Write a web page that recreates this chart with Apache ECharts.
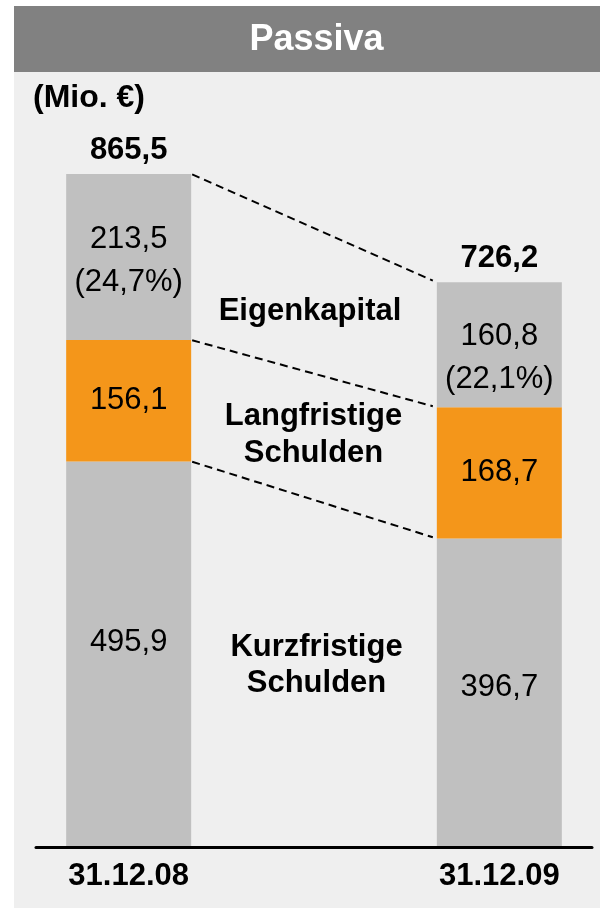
<!DOCTYPE html>
<html>
<head>
<meta charset="utf-8">
<script src="https://cdn.jsdelivr.net/npm/echarts@6/dist/echarts.min.js"></script>
<style>
html,body{margin:0;padding:0;background:#fff;}
#chart{width:600px;height:909px;}
</style>
</head>
<body>
<div id="chart"></div>
<script>
// ---- data ----
const categories = ['31.12.08', '31.12.09'];
const kurzfristigeSchulden = [495.9, 396.7];
const langfristigeSchulden = [156.1, 168.7];
const eigenkapital = [213.5, 160.8];
const eigenkapitalQuote = [24.7, 22.1];
const totals = [865.5, 726.2];

const FONT = '"Liberation Sans", Arial, Helvetica, sans-serif';
const BAR_W = 125;

function fmt(v) { return v.toFixed(1).replace('.', ','); }
function withOffsets(arr, offs) {
  return [
    { value: arr[0], label: { offset: [0, offs[0]] } },
    '-',
    { value: arr[1], label: { offset: [0, offs[1]] } }
  ];
}

const xData = [categories[0], '', categories[1]];

const boundaries = [
  [0, totals[0], totals[1]],
  [0, kurzfristigeSchulden[0] + langfristigeSchulden[0], kurzfristigeSchulden[1] + langfristigeSchulden[1]],
  [0, kurzfristigeSchulden[0], kurzfristigeSchulden[1]]
];

const chart = echarts.init(document.getElementById('chart'), null, { renderer: 'canvas' });

const segLabel = {
  show: true,
  position: 'inside',
  color: '#000',
  fontFamily: FONT,
  fontSize: 31
};

chart.setOption({
  backgroundColor: '#ffffff',
  animation: false,
  grid: { left: 36, right: 8, top: 69.4, bottom: 62 },
  xAxis: {
    type: 'category',
    data: xData,
    z: 10,
    axisLine: { lineStyle: { color: '#000', width: 3 } },
    axisTick: { show: false },
    axisLabel: {
      interval: 0, margin: 14, color: '#000',
      fontFamily: FONT, fontSize: 31, fontWeight: 'bold'
    }
  },
  yAxis: { type: 'value', min: 0, max: 1000, show: false },
  graphic: [
    { type: 'rect', z: -100, shape: { x: 14, y: 6, width: 586, height: 66 }, style: { fill: '#818181' } },
    { type: 'rect', z: -100, shape: { x: 14, y: 72, width: 586, height: 836 }, style: { fill: '#efefef' } },
    { type: 'text', z: 100, x: 316.5, y: 40, style: { text: 'Passiva', fill: '#fff', fontFamily: FONT, fontSize: 36, fontWeight: 'bold', align: 'center', verticalAlign: 'middle' } },
    { type: 'text', z: 100, x: 33, y: 98, style: { text: '(Mio. €)', fill: '#000', fontFamily: FONT, fontSize: 32, fontWeight: 'bold', align: 'left', verticalAlign: 'middle' } },
    { type: 'text', z: 100, x: 310, y: 311, style: { text: 'Eigenkapital', fill: '#000', fontFamily: FONT, fontSize: 31, fontWeight: 'bold', align: 'center', verticalAlign: 'middle' } },
    { type: 'text', z: 100, x: 313.5, y: 435, style: { text: 'Langfristige\nSchulden', lineHeight: 37, fill: '#000', fontFamily: FONT, fontSize: 31, fontWeight: 'bold', align: 'center', verticalAlign: 'middle' } },
    { type: 'text', z: 100, x: 316.5, y: 665, style: { text: 'Kurzfristige\nSchulden', lineHeight: 36, fill: '#000', fontFamily: FONT, fontSize: 31, fontWeight: 'bold', align: 'center', verticalAlign: 'middle' } }
  ],
  series: [
    {
      name: 'Kurzfristige Schulden', type: 'bar', stack: 'p', barWidth: BAR_W,
      itemStyle: { color: '#c0c0c0' },
      label: Object.assign({}, segLabel, { formatter: p => fmt(p.value) }),
      data: withOffsets(kurzfristigeSchulden, [-12, -5])
    },
    {
      name: 'Langfristige Schulden', type: 'bar', stack: 'p', barWidth: BAR_W,
      itemStyle: { color: '#f4961a' },
      label: Object.assign({}, segLabel, { formatter: p => fmt(p.value) }),
      data: withOffsets(langfristigeSchulden, [0, 0])
    },
    {
      name: 'Eigenkapital', type: 'bar', stack: 'p', barWidth: BAR_W,
      itemStyle: { color: '#c0c0c0' },
      label: Object.assign({}, segLabel, {
        lineHeight: 43,
        formatter: p => {
          const i = p.dataIndex === 0 ? 0 : 1;
          return fmt(p.value) + '\n(' + fmt(eigenkapitalQuote[i]) + '%)';
        }
      }),
      data: withOffsets(eigenkapital, [4, 13])
    },
    {
      name: 'Summe', type: 'scatter', symbolSize: 1,
      itemStyle: { color: 'rgba(0,0,0,0)', opacity: 1 },
      label: {
        show: true, position: 'top', distance: 8, color: '#000',
        fontFamily: FONT, fontSize: 31, fontWeight: 'bold',
        formatter: p => fmt(p.value[1])
      },
      data: [[0, totals[0]], [2, totals[1]]]
    },
    {
      name: 'Verbindung', type: 'custom',
      encode: { x: 0, y: [1, 2] },
      data: boundaries,
      renderItem: function (params, api) {
        const a = api.coord([0, api.value(1)]);
        const b = api.coord([2, api.value(2)]);
        const x1 = a[0] + BAR_W / 2 + 1, x2 = b[0] - BAR_W / 2 - 4;
        const k = (b[1] - a[1]) / (b[0] - a[0] - BAR_W);
        const y1 = a[1] + k * 1, y2 = b[1] - k * 4;
        return {
          type: 'line',
          shape: { x1: x1, y1: y1, x2: x2, y2: y2 },
          style: { stroke: '#000', lineWidth: 2, lineDash: [8, 5] }
        };
      }
    }
  ]
});
</script>
</body>
</html>
